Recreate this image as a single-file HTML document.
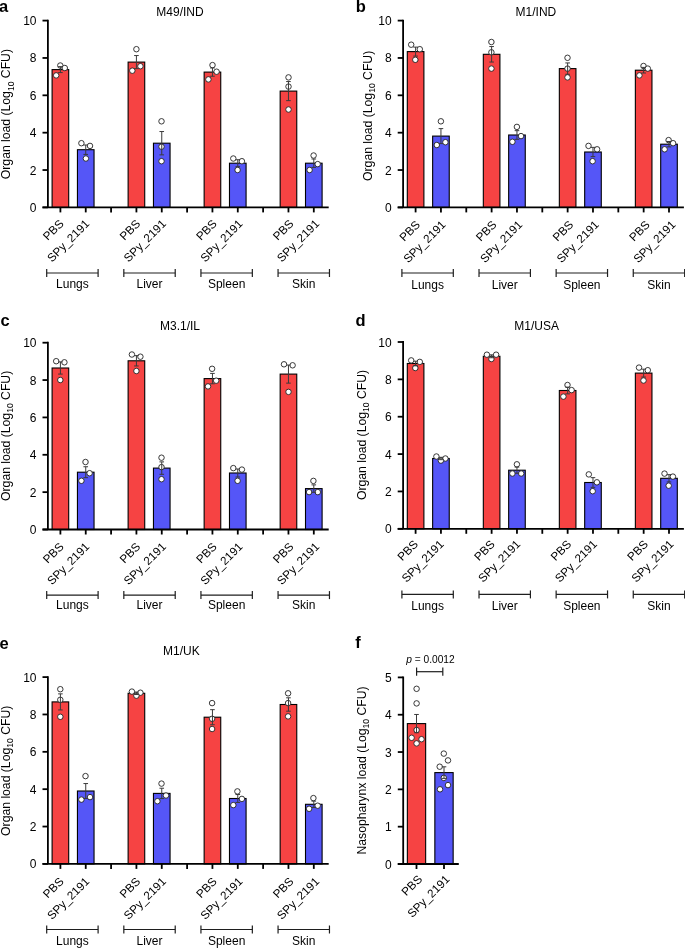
<!DOCTYPE html>
<html><head><meta charset="utf-8"><style>
html,body{margin:0;padding:0;background:#fff;}
svg{display:block;will-change:transform;}
text{font-family:"Liberation Sans",sans-serif;fill:#000;}
</style></head><body>
<svg width="685" height="948" viewBox="0 0 685 948">
<rect width="685" height="948" fill="#fff"/>
<rect x="52.10" y="69.60" width="16.6" height="137.80" fill="#f64343" stroke="#000" stroke-width="1.1"/>
<circle cx="60.30" cy="65.50" r="2.75" fill="#fff" stroke="#222" stroke-width="0.9"/>
<circle cx="64.80" cy="68.00" r="2.75" fill="#fff" stroke="#222" stroke-width="0.9"/>
<circle cx="56.20" cy="75.40" r="2.75" fill="#fff" stroke="#222" stroke-width="0.9"/>
<line x1="60.40" y1="66.63" x2="60.40" y2="72.57" stroke="#3a3a3a" stroke-width="1.0"/>
<line x1="58.10" y1="66.63" x2="62.70" y2="66.63" stroke="#3a3a3a" stroke-width="1.0"/>
<line x1="58.10" y1="72.57" x2="62.70" y2="72.57" stroke="#3a3a3a" stroke-width="1.0"/>
<rect x="77.44" y="149.70" width="16.6" height="57.70" fill="#5556f7" stroke="#000" stroke-width="1.1"/>
<circle cx="81.40" cy="143.20" r="2.75" fill="#fff" stroke="#222" stroke-width="0.9"/>
<circle cx="90.00" cy="145.90" r="2.75" fill="#fff" stroke="#222" stroke-width="0.9"/>
<circle cx="85.90" cy="158.50" r="2.75" fill="#fff" stroke="#222" stroke-width="0.9"/>
<line x1="85.74" y1="144.99" x2="85.74" y2="154.41" stroke="#3a3a3a" stroke-width="1.0"/>
<line x1="83.44" y1="144.99" x2="88.04" y2="144.99" stroke="#3a3a3a" stroke-width="1.0"/>
<line x1="83.44" y1="154.41" x2="88.04" y2="154.41" stroke="#3a3a3a" stroke-width="1.0"/>
<rect x="128.12" y="62.10" width="16.6" height="145.30" fill="#f64343" stroke="#000" stroke-width="1.1"/>
<circle cx="136.40" cy="49.20" r="2.75" fill="#fff" stroke="#222" stroke-width="0.9"/>
<circle cx="140.40" cy="66.20" r="2.75" fill="#fff" stroke="#222" stroke-width="0.9"/>
<circle cx="132.30" cy="70.70" r="2.75" fill="#fff" stroke="#222" stroke-width="0.9"/>
<line x1="136.42" y1="55.55" x2="136.42" y2="68.65" stroke="#3a3a3a" stroke-width="1.0"/>
<line x1="134.12" y1="55.55" x2="138.72" y2="55.55" stroke="#3a3a3a" stroke-width="1.0"/>
<line x1="134.12" y1="68.65" x2="138.72" y2="68.65" stroke="#3a3a3a" stroke-width="1.0"/>
<rect x="153.46" y="143.20" width="16.6" height="64.20" fill="#5556f7" stroke="#000" stroke-width="1.1"/>
<circle cx="161.50" cy="121.30" r="2.75" fill="#fff" stroke="#222" stroke-width="0.9"/>
<circle cx="161.50" cy="146.70" r="2.75" fill="#fff" stroke="#222" stroke-width="0.9"/>
<circle cx="161.50" cy="161.20" r="2.75" fill="#fff" stroke="#222" stroke-width="0.9"/>
<line x1="161.76" y1="131.54" x2="161.76" y2="154.86" stroke="#3a3a3a" stroke-width="1.0"/>
<line x1="159.46" y1="131.54" x2="164.06" y2="131.54" stroke="#3a3a3a" stroke-width="1.0"/>
<line x1="159.46" y1="154.86" x2="164.06" y2="154.86" stroke="#3a3a3a" stroke-width="1.0"/>
<rect x="204.14" y="72.10" width="16.6" height="135.30" fill="#f64343" stroke="#000" stroke-width="1.1"/>
<circle cx="212.50" cy="65.10" r="2.75" fill="#fff" stroke="#222" stroke-width="0.9"/>
<circle cx="216.60" cy="71.70" r="2.75" fill="#fff" stroke="#222" stroke-width="0.9"/>
<circle cx="208.40" cy="79.40" r="2.75" fill="#fff" stroke="#222" stroke-width="0.9"/>
<line x1="212.44" y1="67.97" x2="212.44" y2="76.23" stroke="#3a3a3a" stroke-width="1.0"/>
<line x1="210.14" y1="67.97" x2="214.74" y2="67.97" stroke="#3a3a3a" stroke-width="1.0"/>
<line x1="210.14" y1="76.23" x2="214.74" y2="76.23" stroke="#3a3a3a" stroke-width="1.0"/>
<rect x="229.48" y="163.20" width="16.6" height="44.20" fill="#5556f7" stroke="#000" stroke-width="1.1"/>
<circle cx="233.30" cy="158.50" r="2.75" fill="#fff" stroke="#222" stroke-width="0.9"/>
<circle cx="241.90" cy="161.20" r="2.75" fill="#fff" stroke="#222" stroke-width="0.9"/>
<circle cx="237.60" cy="170.00" r="2.75" fill="#fff" stroke="#222" stroke-width="0.9"/>
<line x1="237.78" y1="159.73" x2="237.78" y2="166.67" stroke="#3a3a3a" stroke-width="1.0"/>
<line x1="235.48" y1="159.73" x2="240.08" y2="159.73" stroke="#3a3a3a" stroke-width="1.0"/>
<line x1="235.48" y1="166.67" x2="240.08" y2="166.67" stroke="#3a3a3a" stroke-width="1.0"/>
<rect x="280.16" y="91.10" width="16.6" height="116.30" fill="#f64343" stroke="#000" stroke-width="1.1"/>
<circle cx="288.50" cy="77.40" r="2.75" fill="#fff" stroke="#222" stroke-width="0.9"/>
<circle cx="288.50" cy="86.60" r="2.75" fill="#fff" stroke="#222" stroke-width="0.9"/>
<circle cx="288.50" cy="109.50" r="2.75" fill="#fff" stroke="#222" stroke-width="0.9"/>
<line x1="288.46" y1="81.56" x2="288.46" y2="100.64" stroke="#3a3a3a" stroke-width="1.0"/>
<line x1="286.16" y1="81.56" x2="290.76" y2="81.56" stroke="#3a3a3a" stroke-width="1.0"/>
<line x1="286.16" y1="100.64" x2="290.76" y2="100.64" stroke="#3a3a3a" stroke-width="1.0"/>
<rect x="305.50" y="163.20" width="16.6" height="44.20" fill="#5556f7" stroke="#000" stroke-width="1.1"/>
<circle cx="313.60" cy="155.50" r="2.75" fill="#fff" stroke="#222" stroke-width="0.9"/>
<circle cx="317.70" cy="164.10" r="2.75" fill="#fff" stroke="#222" stroke-width="0.9"/>
<circle cx="309.60" cy="170.00" r="2.75" fill="#fff" stroke="#222" stroke-width="0.9"/>
<line x1="313.80" y1="158.99" x2="313.80" y2="167.41" stroke="#3a3a3a" stroke-width="1.0"/>
<line x1="311.50" y1="158.99" x2="316.10" y2="158.99" stroke="#3a3a3a" stroke-width="1.0"/>
<line x1="311.50" y1="167.41" x2="316.10" y2="167.41" stroke="#3a3a3a" stroke-width="1.0"/>
<line x1="47.90" y1="207.40" x2="47.90" y2="19.70" stroke="#000" stroke-width="1.8"/>
<line x1="42.50" y1="207.40" x2="47.90" y2="207.40" stroke="#000" stroke-width="1.8"/>
<text x="36.50" y="211.90" font-size="12" text-anchor="end" >0</text>
<line x1="42.50" y1="170.04" x2="47.90" y2="170.04" stroke="#000" stroke-width="1.8"/>
<text x="36.50" y="174.54" font-size="12" text-anchor="end" >2</text>
<line x1="42.50" y1="132.68" x2="47.90" y2="132.68" stroke="#000" stroke-width="1.8"/>
<text x="36.50" y="137.18" font-size="12" text-anchor="end" >4</text>
<line x1="42.50" y1="95.32" x2="47.90" y2="95.32" stroke="#000" stroke-width="1.8"/>
<text x="36.50" y="99.82" font-size="12" text-anchor="end" >6</text>
<line x1="42.50" y1="57.96" x2="47.90" y2="57.96" stroke="#000" stroke-width="1.8"/>
<text x="36.50" y="62.46" font-size="12" text-anchor="end" >8</text>
<line x1="42.50" y1="20.60" x2="47.90" y2="20.60" stroke="#000" stroke-width="1.8"/>
<text x="36.50" y="25.10" font-size="12" text-anchor="end" >10</text>
<line x1="42.50" y1="207.40" x2="328.70" y2="207.40" stroke="#000" stroke-width="1.8"/>
<line x1="60.40" y1="207.40" x2="60.40" y2="212.40" stroke="#000" stroke-width="1.8"/>
<line x1="85.74" y1="207.40" x2="85.74" y2="212.40" stroke="#000" stroke-width="1.8"/>
<line x1="111.08" y1="207.40" x2="111.08" y2="212.40" stroke="#000" stroke-width="1.8"/>
<line x1="136.42" y1="207.40" x2="136.42" y2="212.40" stroke="#000" stroke-width="1.8"/>
<line x1="161.76" y1="207.40" x2="161.76" y2="212.40" stroke="#000" stroke-width="1.8"/>
<line x1="187.10" y1="207.40" x2="187.10" y2="212.40" stroke="#000" stroke-width="1.8"/>
<line x1="212.44" y1="207.40" x2="212.44" y2="212.40" stroke="#000" stroke-width="1.8"/>
<line x1="237.78" y1="207.40" x2="237.78" y2="212.40" stroke="#000" stroke-width="1.8"/>
<line x1="263.12" y1="207.40" x2="263.12" y2="212.40" stroke="#000" stroke-width="1.8"/>
<line x1="288.46" y1="207.40" x2="288.46" y2="212.40" stroke="#000" stroke-width="1.8"/>
<line x1="313.80" y1="207.40" x2="313.80" y2="212.40" stroke="#000" stroke-width="1.8"/>
<text transform="translate(64.40,224.50) rotate(-45)" font-size="11.7" text-anchor="end">PBS</text>
<text transform="translate(90.14,224.50) rotate(-45)" font-size="11.7" text-anchor="end">SPy_2191</text>
<line x1="46.70" y1="273.00" x2="98.10" y2="273.00" stroke="#1e1e1e" stroke-width="1.2"/>
<line x1="46.70" y1="269.00" x2="46.70" y2="277.00" stroke="#1e1e1e" stroke-width="1.2"/>
<line x1="98.10" y1="269.00" x2="98.10" y2="277.00" stroke="#1e1e1e" stroke-width="1.2"/>
<text x="72.40" y="288.00" font-size="12" text-anchor="middle" >Lungs</text>
<text transform="translate(141.02,224.50) rotate(-45)" font-size="11.7" text-anchor="end">PBS</text>
<text transform="translate(166.76,224.50) rotate(-45)" font-size="11.7" text-anchor="end">SPy_2191</text>
<line x1="123.82" y1="273.00" x2="175.22" y2="273.00" stroke="#1e1e1e" stroke-width="1.2"/>
<line x1="123.82" y1="269.00" x2="123.82" y2="277.00" stroke="#1e1e1e" stroke-width="1.2"/>
<line x1="175.22" y1="269.00" x2="175.22" y2="277.00" stroke="#1e1e1e" stroke-width="1.2"/>
<text x="149.52" y="288.00" font-size="12" text-anchor="middle" >Liver</text>
<text transform="translate(217.64,224.50) rotate(-45)" font-size="11.7" text-anchor="end">PBS</text>
<text transform="translate(243.38,224.50) rotate(-45)" font-size="11.7" text-anchor="end">SPy_2191</text>
<line x1="200.94" y1="273.00" x2="252.34" y2="273.00" stroke="#1e1e1e" stroke-width="1.2"/>
<line x1="200.94" y1="269.00" x2="200.94" y2="277.00" stroke="#1e1e1e" stroke-width="1.2"/>
<line x1="252.34" y1="269.00" x2="252.34" y2="277.00" stroke="#1e1e1e" stroke-width="1.2"/>
<text x="226.64" y="288.00" font-size="12" text-anchor="middle" >Spleen</text>
<text transform="translate(294.26,224.50) rotate(-45)" font-size="11.7" text-anchor="end">PBS</text>
<text transform="translate(320.00,224.50) rotate(-45)" font-size="11.7" text-anchor="end">SPy_2191</text>
<line x1="278.06" y1="273.00" x2="329.46" y2="273.00" stroke="#1e1e1e" stroke-width="1.2"/>
<line x1="278.06" y1="269.00" x2="278.06" y2="277.00" stroke="#1e1e1e" stroke-width="1.2"/>
<line x1="329.46" y1="269.00" x2="329.46" y2="277.00" stroke="#1e1e1e" stroke-width="1.2"/>
<text x="303.76" y="288.00" font-size="12" text-anchor="middle" >Skin</text>
<text x="180.00" y="15.80" font-size="12" text-anchor="middle" >M49/IND</text>
<text transform="translate(10.30,114.10) rotate(-90)" font-size="12.2" text-anchor="middle">Organ load (Log<tspan font-size="8.6" dy="3.2">10</tspan><tspan dy="-3.2"> CFU)</tspan></text>
<text x="-0.90" y="11.90" font-size="16.5" text-anchor="start" font-weight="bold">a</text>
<rect x="407.30" y="51.60" width="16.6" height="155.80" fill="#f64343" stroke="#000" stroke-width="1.1"/>
<circle cx="411.20" cy="44.70" r="2.75" fill="#fff" stroke="#222" stroke-width="0.9"/>
<circle cx="419.80" cy="49.20" r="2.75" fill="#fff" stroke="#222" stroke-width="0.9"/>
<circle cx="415.30" cy="59.80" r="2.75" fill="#fff" stroke="#222" stroke-width="0.9"/>
<line x1="415.60" y1="47.12" x2="415.60" y2="56.08" stroke="#3a3a3a" stroke-width="1.0"/>
<line x1="413.30" y1="47.12" x2="417.90" y2="47.12" stroke="#3a3a3a" stroke-width="1.0"/>
<line x1="413.30" y1="56.08" x2="417.90" y2="56.08" stroke="#3a3a3a" stroke-width="1.0"/>
<rect x="432.64" y="136.10" width="16.6" height="71.30" fill="#5556f7" stroke="#000" stroke-width="1.1"/>
<circle cx="440.90" cy="121.30" r="2.75" fill="#fff" stroke="#222" stroke-width="0.9"/>
<circle cx="445.40" cy="142.20" r="2.75" fill="#fff" stroke="#222" stroke-width="0.9"/>
<circle cx="436.80" cy="145.00" r="2.75" fill="#fff" stroke="#222" stroke-width="0.9"/>
<line x1="440.94" y1="128.62" x2="440.94" y2="143.58" stroke="#3a3a3a" stroke-width="1.0"/>
<line x1="438.64" y1="128.62" x2="443.24" y2="128.62" stroke="#3a3a3a" stroke-width="1.0"/>
<line x1="438.64" y1="143.58" x2="443.24" y2="143.58" stroke="#3a3a3a" stroke-width="1.0"/>
<rect x="483.32" y="54.30" width="16.6" height="153.10" fill="#f64343" stroke="#000" stroke-width="1.1"/>
<circle cx="491.40" cy="42.00" r="2.75" fill="#fff" stroke="#222" stroke-width="0.9"/>
<circle cx="491.40" cy="52.30" r="2.75" fill="#fff" stroke="#222" stroke-width="0.9"/>
<circle cx="491.40" cy="68.60" r="2.75" fill="#fff" stroke="#222" stroke-width="0.9"/>
<line x1="491.62" y1="46.56" x2="491.62" y2="62.04" stroke="#3a3a3a" stroke-width="1.0"/>
<line x1="489.32" y1="46.56" x2="493.92" y2="46.56" stroke="#3a3a3a" stroke-width="1.0"/>
<line x1="489.32" y1="62.04" x2="493.92" y2="62.04" stroke="#3a3a3a" stroke-width="1.0"/>
<rect x="508.66" y="135.00" width="16.6" height="72.40" fill="#5556f7" stroke="#000" stroke-width="1.1"/>
<circle cx="516.90" cy="126.90" r="2.75" fill="#fff" stroke="#222" stroke-width="0.9"/>
<circle cx="521.00" cy="136.10" r="2.75" fill="#fff" stroke="#222" stroke-width="0.9"/>
<circle cx="512.40" cy="141.80" r="2.75" fill="#fff" stroke="#222" stroke-width="0.9"/>
<line x1="516.96" y1="130.66" x2="516.96" y2="139.34" stroke="#3a3a3a" stroke-width="1.0"/>
<line x1="514.66" y1="130.66" x2="519.26" y2="130.66" stroke="#3a3a3a" stroke-width="1.0"/>
<line x1="514.66" y1="139.34" x2="519.26" y2="139.34" stroke="#3a3a3a" stroke-width="1.0"/>
<rect x="559.34" y="68.60" width="16.6" height="138.80" fill="#f64343" stroke="#000" stroke-width="1.1"/>
<circle cx="567.50" cy="57.80" r="2.75" fill="#fff" stroke="#222" stroke-width="0.9"/>
<circle cx="567.50" cy="68.60" r="2.75" fill="#fff" stroke="#222" stroke-width="0.9"/>
<circle cx="567.50" cy="77.40" r="2.75" fill="#fff" stroke="#222" stroke-width="0.9"/>
<line x1="567.64" y1="62.93" x2="567.64" y2="74.27" stroke="#3a3a3a" stroke-width="1.0"/>
<line x1="565.34" y1="62.93" x2="569.94" y2="62.93" stroke="#3a3a3a" stroke-width="1.0"/>
<line x1="565.34" y1="74.27" x2="569.94" y2="74.27" stroke="#3a3a3a" stroke-width="1.0"/>
<rect x="584.68" y="152.00" width="16.6" height="55.40" fill="#5556f7" stroke="#000" stroke-width="1.1"/>
<circle cx="588.50" cy="145.90" r="2.75" fill="#fff" stroke="#222" stroke-width="0.9"/>
<circle cx="597.10" cy="149.30" r="2.75" fill="#fff" stroke="#222" stroke-width="0.9"/>
<circle cx="592.60" cy="161.20" r="2.75" fill="#fff" stroke="#222" stroke-width="0.9"/>
<line x1="592.98" y1="147.36" x2="592.98" y2="156.64" stroke="#3a3a3a" stroke-width="1.0"/>
<line x1="590.68" y1="147.36" x2="595.28" y2="147.36" stroke="#3a3a3a" stroke-width="1.0"/>
<line x1="590.68" y1="156.64" x2="595.28" y2="156.64" stroke="#3a3a3a" stroke-width="1.0"/>
<rect x="635.36" y="70.20" width="16.6" height="137.20" fill="#f64343" stroke="#000" stroke-width="1.1"/>
<circle cx="643.50" cy="66.00" r="2.75" fill="#fff" stroke="#222" stroke-width="0.9"/>
<circle cx="647.80" cy="68.60" r="2.75" fill="#fff" stroke="#222" stroke-width="0.9"/>
<circle cx="639.40" cy="75.40" r="2.75" fill="#fff" stroke="#222" stroke-width="0.9"/>
<line x1="643.66" y1="67.40" x2="643.66" y2="73.00" stroke="#3a3a3a" stroke-width="1.0"/>
<line x1="641.36" y1="67.40" x2="645.96" y2="67.40" stroke="#3a3a3a" stroke-width="1.0"/>
<line x1="641.36" y1="73.00" x2="645.96" y2="73.00" stroke="#3a3a3a" stroke-width="1.0"/>
<rect x="660.70" y="144.20" width="16.6" height="63.20" fill="#5556f7" stroke="#000" stroke-width="1.1"/>
<circle cx="668.60" cy="140.10" r="2.75" fill="#fff" stroke="#222" stroke-width="0.9"/>
<circle cx="673.10" cy="143.20" r="2.75" fill="#fff" stroke="#222" stroke-width="0.9"/>
<circle cx="664.60" cy="149.30" r="2.75" fill="#fff" stroke="#222" stroke-width="0.9"/>
<line x1="669.00" y1="141.50" x2="669.00" y2="146.90" stroke="#3a3a3a" stroke-width="1.0"/>
<line x1="666.70" y1="141.50" x2="671.30" y2="141.50" stroke="#3a3a3a" stroke-width="1.0"/>
<line x1="666.70" y1="146.90" x2="671.30" y2="146.90" stroke="#3a3a3a" stroke-width="1.0"/>
<line x1="403.10" y1="207.40" x2="403.10" y2="19.70" stroke="#000" stroke-width="1.8"/>
<line x1="397.70" y1="207.40" x2="403.10" y2="207.40" stroke="#000" stroke-width="1.8"/>
<text x="391.70" y="211.90" font-size="12" text-anchor="end" >0</text>
<line x1="397.70" y1="170.04" x2="403.10" y2="170.04" stroke="#000" stroke-width="1.8"/>
<text x="391.70" y="174.54" font-size="12" text-anchor="end" >2</text>
<line x1="397.70" y1="132.68" x2="403.10" y2="132.68" stroke="#000" stroke-width="1.8"/>
<text x="391.70" y="137.18" font-size="12" text-anchor="end" >4</text>
<line x1="397.70" y1="95.32" x2="403.10" y2="95.32" stroke="#000" stroke-width="1.8"/>
<text x="391.70" y="99.82" font-size="12" text-anchor="end" >6</text>
<line x1="397.70" y1="57.96" x2="403.10" y2="57.96" stroke="#000" stroke-width="1.8"/>
<text x="391.70" y="62.46" font-size="12" text-anchor="end" >8</text>
<line x1="397.70" y1="20.60" x2="403.10" y2="20.60" stroke="#000" stroke-width="1.8"/>
<text x="391.70" y="25.10" font-size="12" text-anchor="end" >10</text>
<line x1="397.70" y1="207.40" x2="683.90" y2="207.40" stroke="#000" stroke-width="1.8"/>
<line x1="415.60" y1="207.40" x2="415.60" y2="212.40" stroke="#000" stroke-width="1.8"/>
<line x1="440.94" y1="207.40" x2="440.94" y2="212.40" stroke="#000" stroke-width="1.8"/>
<line x1="466.28" y1="207.40" x2="466.28" y2="212.40" stroke="#000" stroke-width="1.8"/>
<line x1="491.62" y1="207.40" x2="491.62" y2="212.40" stroke="#000" stroke-width="1.8"/>
<line x1="516.96" y1="207.40" x2="516.96" y2="212.40" stroke="#000" stroke-width="1.8"/>
<line x1="542.30" y1="207.40" x2="542.30" y2="212.40" stroke="#000" stroke-width="1.8"/>
<line x1="567.64" y1="207.40" x2="567.64" y2="212.40" stroke="#000" stroke-width="1.8"/>
<line x1="592.98" y1="207.40" x2="592.98" y2="212.40" stroke="#000" stroke-width="1.8"/>
<line x1="618.32" y1="207.40" x2="618.32" y2="212.40" stroke="#000" stroke-width="1.8"/>
<line x1="643.66" y1="207.40" x2="643.66" y2="212.40" stroke="#000" stroke-width="1.8"/>
<line x1="669.00" y1="207.40" x2="669.00" y2="212.40" stroke="#000" stroke-width="1.8"/>
<text transform="translate(420.70,225.40) rotate(-45)" font-size="11.7" text-anchor="end">PBS</text>
<text transform="translate(446.44,225.40) rotate(-45)" font-size="11.7" text-anchor="end">SPy_2191</text>
<line x1="401.90" y1="273.00" x2="453.30" y2="273.00" stroke="#1e1e1e" stroke-width="1.2"/>
<line x1="401.90" y1="269.00" x2="401.90" y2="277.00" stroke="#1e1e1e" stroke-width="1.2"/>
<line x1="453.30" y1="269.00" x2="453.30" y2="277.00" stroke="#1e1e1e" stroke-width="1.2"/>
<text x="427.60" y="288.60" font-size="12" text-anchor="middle" >Lungs</text>
<text transform="translate(497.32,225.40) rotate(-45)" font-size="11.7" text-anchor="end">PBS</text>
<text transform="translate(523.06,225.40) rotate(-45)" font-size="11.7" text-anchor="end">SPy_2191</text>
<line x1="479.02" y1="273.00" x2="530.42" y2="273.00" stroke="#1e1e1e" stroke-width="1.2"/>
<line x1="479.02" y1="269.00" x2="479.02" y2="277.00" stroke="#1e1e1e" stroke-width="1.2"/>
<line x1="530.42" y1="269.00" x2="530.42" y2="277.00" stroke="#1e1e1e" stroke-width="1.2"/>
<text x="504.72" y="288.60" font-size="12" text-anchor="middle" >Liver</text>
<text transform="translate(573.94,225.40) rotate(-45)" font-size="11.7" text-anchor="end">PBS</text>
<text transform="translate(599.68,225.40) rotate(-45)" font-size="11.7" text-anchor="end">SPy_2191</text>
<line x1="556.14" y1="273.00" x2="607.54" y2="273.00" stroke="#1e1e1e" stroke-width="1.2"/>
<line x1="556.14" y1="269.00" x2="556.14" y2="277.00" stroke="#1e1e1e" stroke-width="1.2"/>
<line x1="607.54" y1="269.00" x2="607.54" y2="277.00" stroke="#1e1e1e" stroke-width="1.2"/>
<text x="581.84" y="288.60" font-size="12" text-anchor="middle" >Spleen</text>
<text transform="translate(650.56,225.40) rotate(-45)" font-size="11.7" text-anchor="end">PBS</text>
<text transform="translate(676.30,225.40) rotate(-45)" font-size="11.7" text-anchor="end">SPy_2191</text>
<line x1="633.26" y1="273.00" x2="684.66" y2="273.00" stroke="#1e1e1e" stroke-width="1.2"/>
<line x1="633.26" y1="269.00" x2="633.26" y2="277.00" stroke="#1e1e1e" stroke-width="1.2"/>
<line x1="684.66" y1="269.00" x2="684.66" y2="277.00" stroke="#1e1e1e" stroke-width="1.2"/>
<text x="658.96" y="288.60" font-size="12" text-anchor="middle" >Skin</text>
<text x="535.95" y="15.80" font-size="12" text-anchor="middle" >M1/IND</text>
<text transform="translate(371.90,115.85) rotate(-90)" font-size="12.2" text-anchor="middle">Organ load (Log<tspan font-size="8.6" dy="3.2">10</tspan><tspan dy="-3.2"> CFU)</tspan></text>
<text x="355.80" y="11.70" font-size="16.5" text-anchor="start" font-weight="bold">b</text>
<rect x="52.10" y="368.00" width="16.6" height="161.50" fill="#f64343" stroke="#000" stroke-width="1.1"/>
<circle cx="56.20" cy="361.20" r="2.75" fill="#fff" stroke="#222" stroke-width="0.9"/>
<circle cx="64.40" cy="362.30" r="2.75" fill="#fff" stroke="#222" stroke-width="0.9"/>
<circle cx="60.30" cy="380.00" r="2.75" fill="#fff" stroke="#222" stroke-width="0.9"/>
<line x1="60.40" y1="361.91" x2="60.40" y2="374.09" stroke="#3a3a3a" stroke-width="1.0"/>
<line x1="58.10" y1="361.91" x2="62.70" y2="361.91" stroke="#3a3a3a" stroke-width="1.0"/>
<line x1="58.10" y1="374.09" x2="62.70" y2="374.09" stroke="#3a3a3a" stroke-width="1.0"/>
<rect x="77.44" y="472.20" width="16.6" height="57.30" fill="#5556f7" stroke="#000" stroke-width="1.1"/>
<circle cx="85.50" cy="462.00" r="2.75" fill="#fff" stroke="#222" stroke-width="0.9"/>
<circle cx="89.60" cy="473.20" r="2.75" fill="#fff" stroke="#222" stroke-width="0.9"/>
<circle cx="81.40" cy="480.80" r="2.75" fill="#fff" stroke="#222" stroke-width="0.9"/>
<line x1="85.74" y1="466.74" x2="85.74" y2="477.66" stroke="#3a3a3a" stroke-width="1.0"/>
<line x1="83.44" y1="466.74" x2="88.04" y2="466.74" stroke="#3a3a3a" stroke-width="1.0"/>
<line x1="83.44" y1="477.66" x2="88.04" y2="477.66" stroke="#3a3a3a" stroke-width="1.0"/>
<rect x="128.12" y="360.80" width="16.6" height="168.70" fill="#f64343" stroke="#000" stroke-width="1.1"/>
<circle cx="131.90" cy="354.50" r="2.75" fill="#fff" stroke="#222" stroke-width="0.9"/>
<circle cx="140.40" cy="356.70" r="2.75" fill="#fff" stroke="#222" stroke-width="0.9"/>
<circle cx="136.40" cy="371.00" r="2.75" fill="#fff" stroke="#222" stroke-width="0.9"/>
<line x1="136.42" y1="355.63" x2="136.42" y2="365.97" stroke="#3a3a3a" stroke-width="1.0"/>
<line x1="134.12" y1="355.63" x2="138.72" y2="355.63" stroke="#3a3a3a" stroke-width="1.0"/>
<line x1="134.12" y1="365.97" x2="138.72" y2="365.97" stroke="#3a3a3a" stroke-width="1.0"/>
<rect x="153.46" y="468.10" width="16.6" height="61.40" fill="#5556f7" stroke="#000" stroke-width="1.1"/>
<circle cx="161.50" cy="457.70" r="2.75" fill="#fff" stroke="#222" stroke-width="0.9"/>
<circle cx="161.50" cy="467.10" r="2.75" fill="#fff" stroke="#222" stroke-width="0.9"/>
<circle cx="161.50" cy="479.20" r="2.75" fill="#fff" stroke="#222" stroke-width="0.9"/>
<line x1="161.76" y1="461.88" x2="161.76" y2="474.32" stroke="#3a3a3a" stroke-width="1.0"/>
<line x1="159.46" y1="461.88" x2="164.06" y2="461.88" stroke="#3a3a3a" stroke-width="1.0"/>
<line x1="159.46" y1="474.32" x2="164.06" y2="474.32" stroke="#3a3a3a" stroke-width="1.0"/>
<rect x="204.14" y="378.60" width="16.6" height="150.90" fill="#f64343" stroke="#000" stroke-width="1.1"/>
<circle cx="212.10" cy="368.80" r="2.75" fill="#fff" stroke="#222" stroke-width="0.9"/>
<circle cx="216.20" cy="380.70" r="2.75" fill="#fff" stroke="#222" stroke-width="0.9"/>
<circle cx="208.00" cy="386.40" r="2.75" fill="#fff" stroke="#222" stroke-width="0.9"/>
<line x1="212.44" y1="373.42" x2="212.44" y2="383.78" stroke="#3a3a3a" stroke-width="1.0"/>
<line x1="210.14" y1="373.42" x2="214.74" y2="373.42" stroke="#3a3a3a" stroke-width="1.0"/>
<line x1="210.14" y1="383.78" x2="214.74" y2="383.78" stroke="#3a3a3a" stroke-width="1.0"/>
<rect x="229.48" y="473.00" width="16.6" height="56.50" fill="#5556f7" stroke="#000" stroke-width="1.1"/>
<circle cx="233.30" cy="468.10" r="2.75" fill="#fff" stroke="#222" stroke-width="0.9"/>
<circle cx="241.90" cy="469.60" r="2.75" fill="#fff" stroke="#222" stroke-width="0.9"/>
<circle cx="237.60" cy="480.80" r="2.75" fill="#fff" stroke="#222" stroke-width="0.9"/>
<line x1="237.78" y1="468.99" x2="237.78" y2="477.01" stroke="#3a3a3a" stroke-width="1.0"/>
<line x1="235.48" y1="468.99" x2="240.08" y2="468.99" stroke="#3a3a3a" stroke-width="1.0"/>
<line x1="235.48" y1="477.01" x2="240.08" y2="477.01" stroke="#3a3a3a" stroke-width="1.0"/>
<rect x="280.16" y="374.10" width="16.6" height="155.40" fill="#f64343" stroke="#000" stroke-width="1.1"/>
<circle cx="284.00" cy="364.30" r="2.75" fill="#fff" stroke="#222" stroke-width="0.9"/>
<circle cx="292.60" cy="365.30" r="2.75" fill="#fff" stroke="#222" stroke-width="0.9"/>
<circle cx="288.50" cy="391.90" r="2.75" fill="#fff" stroke="#222" stroke-width="0.9"/>
<line x1="288.46" y1="365.06" x2="288.46" y2="383.14" stroke="#3a3a3a" stroke-width="1.0"/>
<line x1="286.16" y1="365.06" x2="290.76" y2="365.06" stroke="#3a3a3a" stroke-width="1.0"/>
<line x1="286.16" y1="383.14" x2="290.76" y2="383.14" stroke="#3a3a3a" stroke-width="1.0"/>
<rect x="305.50" y="488.60" width="16.6" height="40.90" fill="#5556f7" stroke="#000" stroke-width="1.1"/>
<circle cx="313.40" cy="480.90" r="2.75" fill="#fff" stroke="#222" stroke-width="0.9"/>
<circle cx="309.10" cy="492.10" r="2.75" fill="#fff" stroke="#222" stroke-width="0.9"/>
<circle cx="317.80" cy="492.10" r="2.75" fill="#fff" stroke="#222" stroke-width="0.9"/>
<line x1="313.80" y1="484.87" x2="313.80" y2="492.33" stroke="#3a3a3a" stroke-width="1.0"/>
<line x1="311.50" y1="484.87" x2="316.10" y2="484.87" stroke="#3a3a3a" stroke-width="1.0"/>
<line x1="311.50" y1="492.33" x2="316.10" y2="492.33" stroke="#3a3a3a" stroke-width="1.0"/>
<line x1="47.90" y1="529.50" x2="47.90" y2="341.80" stroke="#000" stroke-width="1.8"/>
<line x1="42.50" y1="529.50" x2="47.90" y2="529.50" stroke="#000" stroke-width="1.8"/>
<text x="36.50" y="534.00" font-size="12" text-anchor="end" >0</text>
<line x1="42.50" y1="492.14" x2="47.90" y2="492.14" stroke="#000" stroke-width="1.8"/>
<text x="36.50" y="496.64" font-size="12" text-anchor="end" >2</text>
<line x1="42.50" y1="454.78" x2="47.90" y2="454.78" stroke="#000" stroke-width="1.8"/>
<text x="36.50" y="459.28" font-size="12" text-anchor="end" >4</text>
<line x1="42.50" y1="417.42" x2="47.90" y2="417.42" stroke="#000" stroke-width="1.8"/>
<text x="36.50" y="421.92" font-size="12" text-anchor="end" >6</text>
<line x1="42.50" y1="380.06" x2="47.90" y2="380.06" stroke="#000" stroke-width="1.8"/>
<text x="36.50" y="384.56" font-size="12" text-anchor="end" >8</text>
<line x1="42.50" y1="342.70" x2="47.90" y2="342.70" stroke="#000" stroke-width="1.8"/>
<text x="36.50" y="347.20" font-size="12" text-anchor="end" >10</text>
<line x1="42.50" y1="529.50" x2="328.70" y2="529.50" stroke="#000" stroke-width="1.8"/>
<line x1="60.40" y1="529.50" x2="60.40" y2="534.50" stroke="#000" stroke-width="1.8"/>
<line x1="85.74" y1="529.50" x2="85.74" y2="534.50" stroke="#000" stroke-width="1.8"/>
<line x1="111.08" y1="529.50" x2="111.08" y2="534.50" stroke="#000" stroke-width="1.8"/>
<line x1="136.42" y1="529.50" x2="136.42" y2="534.50" stroke="#000" stroke-width="1.8"/>
<line x1="161.76" y1="529.50" x2="161.76" y2="534.50" stroke="#000" stroke-width="1.8"/>
<line x1="187.10" y1="529.50" x2="187.10" y2="534.50" stroke="#000" stroke-width="1.8"/>
<line x1="212.44" y1="529.50" x2="212.44" y2="534.50" stroke="#000" stroke-width="1.8"/>
<line x1="237.78" y1="529.50" x2="237.78" y2="534.50" stroke="#000" stroke-width="1.8"/>
<line x1="263.12" y1="529.50" x2="263.12" y2="534.50" stroke="#000" stroke-width="1.8"/>
<line x1="288.46" y1="529.50" x2="288.46" y2="534.50" stroke="#000" stroke-width="1.8"/>
<line x1="313.80" y1="529.50" x2="313.80" y2="534.50" stroke="#000" stroke-width="1.8"/>
<text transform="translate(64.40,547.40) rotate(-45)" font-size="11.7" text-anchor="end">PBS</text>
<text transform="translate(90.14,547.40) rotate(-45)" font-size="11.7" text-anchor="end">SPy_2191</text>
<line x1="46.70" y1="595.10" x2="98.10" y2="595.10" stroke="#1e1e1e" stroke-width="1.2"/>
<line x1="46.70" y1="591.10" x2="46.70" y2="599.10" stroke="#1e1e1e" stroke-width="1.2"/>
<line x1="98.10" y1="591.10" x2="98.10" y2="599.10" stroke="#1e1e1e" stroke-width="1.2"/>
<text x="72.40" y="609.20" font-size="12" text-anchor="middle" >Lungs</text>
<text transform="translate(141.02,547.40) rotate(-45)" font-size="11.7" text-anchor="end">PBS</text>
<text transform="translate(166.76,547.40) rotate(-45)" font-size="11.7" text-anchor="end">SPy_2191</text>
<line x1="123.82" y1="595.10" x2="175.22" y2="595.10" stroke="#1e1e1e" stroke-width="1.2"/>
<line x1="123.82" y1="591.10" x2="123.82" y2="599.10" stroke="#1e1e1e" stroke-width="1.2"/>
<line x1="175.22" y1="591.10" x2="175.22" y2="599.10" stroke="#1e1e1e" stroke-width="1.2"/>
<text x="149.52" y="609.20" font-size="12" text-anchor="middle" >Liver</text>
<text transform="translate(217.64,547.40) rotate(-45)" font-size="11.7" text-anchor="end">PBS</text>
<text transform="translate(243.38,547.40) rotate(-45)" font-size="11.7" text-anchor="end">SPy_2191</text>
<line x1="200.94" y1="595.10" x2="252.34" y2="595.10" stroke="#1e1e1e" stroke-width="1.2"/>
<line x1="200.94" y1="591.10" x2="200.94" y2="599.10" stroke="#1e1e1e" stroke-width="1.2"/>
<line x1="252.34" y1="591.10" x2="252.34" y2="599.10" stroke="#1e1e1e" stroke-width="1.2"/>
<text x="226.64" y="609.20" font-size="12" text-anchor="middle" >Spleen</text>
<text transform="translate(294.26,547.40) rotate(-45)" font-size="11.7" text-anchor="end">PBS</text>
<text transform="translate(320.00,547.40) rotate(-45)" font-size="11.7" text-anchor="end">SPy_2191</text>
<line x1="278.06" y1="595.10" x2="329.46" y2="595.10" stroke="#1e1e1e" stroke-width="1.2"/>
<line x1="278.06" y1="591.10" x2="278.06" y2="599.10" stroke="#1e1e1e" stroke-width="1.2"/>
<line x1="329.46" y1="591.10" x2="329.46" y2="599.10" stroke="#1e1e1e" stroke-width="1.2"/>
<text x="303.76" y="609.20" font-size="12" text-anchor="middle" >Skin</text>
<text x="180.00" y="330.00" font-size="12" text-anchor="middle" >M3.1/IL</text>
<text transform="translate(10.20,435.85) rotate(-90)" font-size="12.2" text-anchor="middle">Organ load (Log<tspan font-size="8.6" dy="3.2">10</tspan><tspan dy="-3.2"> CFU)</tspan></text>
<text x="0.50" y="326.00" font-size="16.5" text-anchor="start" font-weight="bold">c</text>
<rect x="407.30" y="363.50" width="16.6" height="165.30" fill="#f64343" stroke="#000" stroke-width="1.1"/>
<circle cx="411.20" cy="360.40" r="2.75" fill="#fff" stroke="#222" stroke-width="0.9"/>
<circle cx="419.80" cy="361.90" r="2.75" fill="#fff" stroke="#222" stroke-width="0.9"/>
<circle cx="415.30" cy="368.00" r="2.75" fill="#fff" stroke="#222" stroke-width="0.9"/>
<line x1="415.60" y1="361.18" x2="415.60" y2="365.82" stroke="#3a3a3a" stroke-width="1.0"/>
<line x1="413.30" y1="361.18" x2="417.90" y2="361.18" stroke="#3a3a3a" stroke-width="1.0"/>
<line x1="413.30" y1="365.82" x2="417.90" y2="365.82" stroke="#3a3a3a" stroke-width="1.0"/>
<rect x="432.64" y="458.50" width="16.6" height="70.30" fill="#5556f7" stroke="#000" stroke-width="1.1"/>
<circle cx="436.40" cy="456.50" r="2.75" fill="#fff" stroke="#222" stroke-width="0.9"/>
<circle cx="445.40" cy="458.50" r="2.75" fill="#fff" stroke="#222" stroke-width="0.9"/>
<circle cx="440.90" cy="460.60" r="2.75" fill="#fff" stroke="#222" stroke-width="0.9"/>
<line x1="440.94" y1="457.32" x2="440.94" y2="459.68" stroke="#3a3a3a" stroke-width="1.0"/>
<line x1="438.64" y1="457.32" x2="443.24" y2="457.32" stroke="#3a3a3a" stroke-width="1.0"/>
<line x1="438.64" y1="459.68" x2="443.24" y2="459.68" stroke="#3a3a3a" stroke-width="1.0"/>
<rect x="483.32" y="356.30" width="16.6" height="172.50" fill="#f64343" stroke="#000" stroke-width="1.1"/>
<circle cx="486.90" cy="354.70" r="2.75" fill="#fff" stroke="#222" stroke-width="0.9"/>
<circle cx="496.10" cy="354.70" r="2.75" fill="#fff" stroke="#222" stroke-width="0.9"/>
<circle cx="491.40" cy="359.00" r="2.75" fill="#fff" stroke="#222" stroke-width="0.9"/>
<line x1="491.62" y1="354.87" x2="491.62" y2="357.73" stroke="#3a3a3a" stroke-width="1.0"/>
<line x1="489.32" y1="354.87" x2="493.92" y2="354.87" stroke="#3a3a3a" stroke-width="1.0"/>
<line x1="489.32" y1="357.73" x2="493.92" y2="357.73" stroke="#3a3a3a" stroke-width="1.0"/>
<rect x="508.66" y="470.20" width="16.6" height="58.60" fill="#5556f7" stroke="#000" stroke-width="1.1"/>
<circle cx="516.90" cy="464.30" r="2.75" fill="#fff" stroke="#222" stroke-width="0.9"/>
<circle cx="512.40" cy="473.50" r="2.75" fill="#fff" stroke="#222" stroke-width="0.9"/>
<circle cx="521.20" cy="473.50" r="2.75" fill="#fff" stroke="#222" stroke-width="0.9"/>
<line x1="516.96" y1="467.13" x2="516.96" y2="473.27" stroke="#3a3a3a" stroke-width="1.0"/>
<line x1="514.66" y1="467.13" x2="519.26" y2="467.13" stroke="#3a3a3a" stroke-width="1.0"/>
<line x1="514.66" y1="473.27" x2="519.26" y2="473.27" stroke="#3a3a3a" stroke-width="1.0"/>
<rect x="559.34" y="390.50" width="16.6" height="138.30" fill="#f64343" stroke="#000" stroke-width="1.1"/>
<circle cx="567.50" cy="385.00" r="2.75" fill="#fff" stroke="#222" stroke-width="0.9"/>
<circle cx="571.60" cy="390.10" r="2.75" fill="#fff" stroke="#222" stroke-width="0.9"/>
<circle cx="563.40" cy="396.60" r="2.75" fill="#fff" stroke="#222" stroke-width="0.9"/>
<line x1="567.64" y1="387.14" x2="567.64" y2="393.86" stroke="#3a3a3a" stroke-width="1.0"/>
<line x1="565.34" y1="387.14" x2="569.94" y2="387.14" stroke="#3a3a3a" stroke-width="1.0"/>
<line x1="565.34" y1="393.86" x2="569.94" y2="393.86" stroke="#3a3a3a" stroke-width="1.0"/>
<rect x="584.68" y="482.50" width="16.6" height="46.30" fill="#5556f7" stroke="#000" stroke-width="1.1"/>
<circle cx="588.80" cy="474.40" r="2.75" fill="#fff" stroke="#222" stroke-width="0.9"/>
<circle cx="596.90" cy="482.30" r="2.75" fill="#fff" stroke="#222" stroke-width="0.9"/>
<circle cx="592.70" cy="491.20" r="2.75" fill="#fff" stroke="#222" stroke-width="0.9"/>
<line x1="592.98" y1="477.65" x2="592.98" y2="487.35" stroke="#3a3a3a" stroke-width="1.0"/>
<line x1="590.68" y1="477.65" x2="595.28" y2="477.65" stroke="#3a3a3a" stroke-width="1.0"/>
<line x1="590.68" y1="487.35" x2="595.28" y2="487.35" stroke="#3a3a3a" stroke-width="1.0"/>
<rect x="635.36" y="373.10" width="16.6" height="155.70" fill="#f64343" stroke="#000" stroke-width="1.1"/>
<circle cx="639.00" cy="367.60" r="2.75" fill="#fff" stroke="#222" stroke-width="0.9"/>
<circle cx="647.80" cy="370.20" r="2.75" fill="#fff" stroke="#222" stroke-width="0.9"/>
<circle cx="643.50" cy="380.50" r="2.75" fill="#fff" stroke="#222" stroke-width="0.9"/>
<line x1="643.66" y1="369.16" x2="643.66" y2="377.04" stroke="#3a3a3a" stroke-width="1.0"/>
<line x1="641.36" y1="369.16" x2="645.96" y2="369.16" stroke="#3a3a3a" stroke-width="1.0"/>
<line x1="641.36" y1="377.04" x2="645.96" y2="377.04" stroke="#3a3a3a" stroke-width="1.0"/>
<rect x="660.70" y="478.30" width="16.6" height="50.50" fill="#5556f7" stroke="#000" stroke-width="1.1"/>
<circle cx="664.50" cy="473.60" r="2.75" fill="#fff" stroke="#222" stroke-width="0.9"/>
<circle cx="672.90" cy="476.60" r="2.75" fill="#fff" stroke="#222" stroke-width="0.9"/>
<circle cx="668.70" cy="485.70" r="2.75" fill="#fff" stroke="#222" stroke-width="0.9"/>
<line x1="669.00" y1="474.66" x2="669.00" y2="481.94" stroke="#3a3a3a" stroke-width="1.0"/>
<line x1="666.70" y1="474.66" x2="671.30" y2="474.66" stroke="#3a3a3a" stroke-width="1.0"/>
<line x1="666.70" y1="481.94" x2="671.30" y2="481.94" stroke="#3a3a3a" stroke-width="1.0"/>
<line x1="403.10" y1="528.80" x2="403.10" y2="341.10" stroke="#000" stroke-width="1.8"/>
<line x1="397.70" y1="528.80" x2="403.10" y2="528.80" stroke="#000" stroke-width="1.8"/>
<text x="391.70" y="533.30" font-size="12" text-anchor="end" >0</text>
<line x1="397.70" y1="491.44" x2="403.10" y2="491.44" stroke="#000" stroke-width="1.8"/>
<text x="391.70" y="495.94" font-size="12" text-anchor="end" >2</text>
<line x1="397.70" y1="454.08" x2="403.10" y2="454.08" stroke="#000" stroke-width="1.8"/>
<text x="391.70" y="458.58" font-size="12" text-anchor="end" >4</text>
<line x1="397.70" y1="416.72" x2="403.10" y2="416.72" stroke="#000" stroke-width="1.8"/>
<text x="391.70" y="421.22" font-size="12" text-anchor="end" >6</text>
<line x1="397.70" y1="379.36" x2="403.10" y2="379.36" stroke="#000" stroke-width="1.8"/>
<text x="391.70" y="383.86" font-size="12" text-anchor="end" >8</text>
<line x1="397.70" y1="342.00" x2="403.10" y2="342.00" stroke="#000" stroke-width="1.8"/>
<text x="391.70" y="346.50" font-size="12" text-anchor="end" >10</text>
<line x1="397.70" y1="528.80" x2="683.90" y2="528.80" stroke="#000" stroke-width="1.8"/>
<line x1="415.60" y1="528.80" x2="415.60" y2="533.80" stroke="#000" stroke-width="1.8"/>
<line x1="440.94" y1="528.80" x2="440.94" y2="533.80" stroke="#000" stroke-width="1.8"/>
<line x1="466.28" y1="528.80" x2="466.28" y2="533.80" stroke="#000" stroke-width="1.8"/>
<line x1="491.62" y1="528.80" x2="491.62" y2="533.80" stroke="#000" stroke-width="1.8"/>
<line x1="516.96" y1="528.80" x2="516.96" y2="533.80" stroke="#000" stroke-width="1.8"/>
<line x1="542.30" y1="528.80" x2="542.30" y2="533.80" stroke="#000" stroke-width="1.8"/>
<line x1="567.64" y1="528.80" x2="567.64" y2="533.80" stroke="#000" stroke-width="1.8"/>
<line x1="592.98" y1="528.80" x2="592.98" y2="533.80" stroke="#000" stroke-width="1.8"/>
<line x1="618.32" y1="528.80" x2="618.32" y2="533.80" stroke="#000" stroke-width="1.8"/>
<line x1="643.66" y1="528.80" x2="643.66" y2="533.80" stroke="#000" stroke-width="1.8"/>
<line x1="669.00" y1="528.80" x2="669.00" y2="533.80" stroke="#000" stroke-width="1.8"/>
<text transform="translate(418.80,544.90) rotate(-45)" font-size="11.7" text-anchor="end">PBS</text>
<text transform="translate(444.54,544.90) rotate(-45)" font-size="11.7" text-anchor="end">SPy_2191</text>
<line x1="401.90" y1="594.40" x2="453.30" y2="594.40" stroke="#1e1e1e" stroke-width="1.2"/>
<line x1="401.90" y1="590.40" x2="401.90" y2="598.40" stroke="#1e1e1e" stroke-width="1.2"/>
<line x1="453.30" y1="590.40" x2="453.30" y2="598.40" stroke="#1e1e1e" stroke-width="1.2"/>
<text x="427.60" y="610.30" font-size="12" text-anchor="middle" >Lungs</text>
<text transform="translate(495.42,544.90) rotate(-45)" font-size="11.7" text-anchor="end">PBS</text>
<text transform="translate(521.16,544.90) rotate(-45)" font-size="11.7" text-anchor="end">SPy_2191</text>
<line x1="479.02" y1="594.40" x2="530.42" y2="594.40" stroke="#1e1e1e" stroke-width="1.2"/>
<line x1="479.02" y1="590.40" x2="479.02" y2="598.40" stroke="#1e1e1e" stroke-width="1.2"/>
<line x1="530.42" y1="590.40" x2="530.42" y2="598.40" stroke="#1e1e1e" stroke-width="1.2"/>
<text x="504.72" y="610.30" font-size="12" text-anchor="middle" >Liver</text>
<text transform="translate(572.04,544.90) rotate(-45)" font-size="11.7" text-anchor="end">PBS</text>
<text transform="translate(597.78,544.90) rotate(-45)" font-size="11.7" text-anchor="end">SPy_2191</text>
<line x1="556.14" y1="594.40" x2="607.54" y2="594.40" stroke="#1e1e1e" stroke-width="1.2"/>
<line x1="556.14" y1="590.40" x2="556.14" y2="598.40" stroke="#1e1e1e" stroke-width="1.2"/>
<line x1="607.54" y1="590.40" x2="607.54" y2="598.40" stroke="#1e1e1e" stroke-width="1.2"/>
<text x="581.84" y="610.30" font-size="12" text-anchor="middle" >Spleen</text>
<text transform="translate(648.66,544.90) rotate(-45)" font-size="11.7" text-anchor="end">PBS</text>
<text transform="translate(674.40,544.90) rotate(-45)" font-size="11.7" text-anchor="end">SPy_2191</text>
<line x1="633.26" y1="594.40" x2="684.66" y2="594.40" stroke="#1e1e1e" stroke-width="1.2"/>
<line x1="633.26" y1="590.40" x2="633.26" y2="598.40" stroke="#1e1e1e" stroke-width="1.2"/>
<line x1="684.66" y1="590.40" x2="684.66" y2="598.40" stroke="#1e1e1e" stroke-width="1.2"/>
<text x="658.96" y="610.30" font-size="12" text-anchor="middle" >Skin</text>
<text x="536.60" y="330.00" font-size="12" text-anchor="middle" >M1/USA</text>
<text transform="translate(366.20,435.00) rotate(-90)" font-size="12.2" text-anchor="middle">Organ load (Log<tspan font-size="8.6" dy="3.2">10</tspan><tspan dy="-3.2"> CFU)</tspan></text>
<text x="355.60" y="325.80" font-size="16.5" text-anchor="start" font-weight="bold">d</text>
<rect x="52.10" y="701.90" width="16.6" height="162.00" fill="#f64343" stroke="#000" stroke-width="1.1"/>
<circle cx="60.30" cy="689.20" r="2.75" fill="#fff" stroke="#222" stroke-width="0.9"/>
<circle cx="60.30" cy="699.80" r="2.75" fill="#fff" stroke="#222" stroke-width="0.9"/>
<circle cx="60.30" cy="716.80" r="2.75" fill="#fff" stroke="#222" stroke-width="0.9"/>
<line x1="60.40" y1="693.86" x2="60.40" y2="709.94" stroke="#3a3a3a" stroke-width="1.0"/>
<line x1="58.10" y1="693.86" x2="62.70" y2="693.86" stroke="#3a3a3a" stroke-width="1.0"/>
<line x1="58.10" y1="709.94" x2="62.70" y2="709.94" stroke="#3a3a3a" stroke-width="1.0"/>
<rect x="77.44" y="791.00" width="16.6" height="72.90" fill="#5556f7" stroke="#000" stroke-width="1.1"/>
<circle cx="85.50" cy="776.10" r="2.75" fill="#fff" stroke="#222" stroke-width="0.9"/>
<circle cx="90.00" cy="797.10" r="2.75" fill="#fff" stroke="#222" stroke-width="0.9"/>
<circle cx="81.40" cy="799.60" r="2.75" fill="#fff" stroke="#222" stroke-width="0.9"/>
<line x1="85.74" y1="783.55" x2="85.74" y2="798.45" stroke="#3a3a3a" stroke-width="1.0"/>
<line x1="83.44" y1="783.55" x2="88.04" y2="783.55" stroke="#3a3a3a" stroke-width="1.0"/>
<line x1="83.44" y1="798.45" x2="88.04" y2="798.45" stroke="#3a3a3a" stroke-width="1.0"/>
<rect x="128.12" y="693.30" width="16.6" height="170.60" fill="#f64343" stroke="#000" stroke-width="1.1"/>
<circle cx="131.90" cy="691.60" r="2.75" fill="#fff" stroke="#222" stroke-width="0.9"/>
<circle cx="140.40" cy="692.70" r="2.75" fill="#fff" stroke="#222" stroke-width="0.9"/>
<circle cx="136.40" cy="695.70" r="2.75" fill="#fff" stroke="#222" stroke-width="0.9"/>
<line x1="136.42" y1="692.07" x2="136.42" y2="694.53" stroke="#3a3a3a" stroke-width="1.0"/>
<line x1="134.12" y1="692.07" x2="138.72" y2="692.07" stroke="#3a3a3a" stroke-width="1.0"/>
<line x1="134.12" y1="694.53" x2="138.72" y2="694.53" stroke="#3a3a3a" stroke-width="1.0"/>
<rect x="153.46" y="793.40" width="16.6" height="70.50" fill="#5556f7" stroke="#000" stroke-width="1.1"/>
<circle cx="161.50" cy="783.60" r="2.75" fill="#fff" stroke="#222" stroke-width="0.9"/>
<circle cx="166.00" cy="795.50" r="2.75" fill="#fff" stroke="#222" stroke-width="0.9"/>
<circle cx="157.40" cy="801.20" r="2.75" fill="#fff" stroke="#222" stroke-width="0.9"/>
<line x1="161.76" y1="788.22" x2="161.76" y2="798.58" stroke="#3a3a3a" stroke-width="1.0"/>
<line x1="159.46" y1="788.22" x2="164.06" y2="788.22" stroke="#3a3a3a" stroke-width="1.0"/>
<line x1="159.46" y1="798.58" x2="164.06" y2="798.58" stroke="#3a3a3a" stroke-width="1.0"/>
<rect x="204.14" y="717.20" width="16.6" height="146.70" fill="#f64343" stroke="#000" stroke-width="1.1"/>
<circle cx="212.10" cy="703.10" r="2.75" fill="#fff" stroke="#222" stroke-width="0.9"/>
<circle cx="212.10" cy="718.80" r="2.75" fill="#fff" stroke="#222" stroke-width="0.9"/>
<circle cx="212.10" cy="729.00" r="2.75" fill="#fff" stroke="#222" stroke-width="0.9"/>
<line x1="212.44" y1="709.67" x2="212.44" y2="724.73" stroke="#3a3a3a" stroke-width="1.0"/>
<line x1="210.14" y1="709.67" x2="214.74" y2="709.67" stroke="#3a3a3a" stroke-width="1.0"/>
<line x1="210.14" y1="724.73" x2="214.74" y2="724.73" stroke="#3a3a3a" stroke-width="1.0"/>
<rect x="229.48" y="798.50" width="16.6" height="65.40" fill="#5556f7" stroke="#000" stroke-width="1.1"/>
<circle cx="237.40" cy="791.40" r="2.75" fill="#fff" stroke="#222" stroke-width="0.9"/>
<circle cx="241.90" cy="798.90" r="2.75" fill="#fff" stroke="#222" stroke-width="0.9"/>
<circle cx="233.30" cy="805.10" r="2.75" fill="#fff" stroke="#222" stroke-width="0.9"/>
<line x1="237.78" y1="794.54" x2="237.78" y2="802.46" stroke="#3a3a3a" stroke-width="1.0"/>
<line x1="235.48" y1="794.54" x2="240.08" y2="794.54" stroke="#3a3a3a" stroke-width="1.0"/>
<line x1="235.48" y1="802.46" x2="240.08" y2="802.46" stroke="#3a3a3a" stroke-width="1.0"/>
<rect x="280.16" y="704.50" width="16.6" height="159.40" fill="#f64343" stroke="#000" stroke-width="1.1"/>
<circle cx="288.10" cy="693.30" r="2.75" fill="#fff" stroke="#222" stroke-width="0.9"/>
<circle cx="288.10" cy="703.10" r="2.75" fill="#fff" stroke="#222" stroke-width="0.9"/>
<circle cx="288.10" cy="716.40" r="2.75" fill="#fff" stroke="#222" stroke-width="0.9"/>
<line x1="288.46" y1="697.81" x2="288.46" y2="711.19" stroke="#3a3a3a" stroke-width="1.0"/>
<line x1="286.16" y1="697.81" x2="290.76" y2="697.81" stroke="#3a3a3a" stroke-width="1.0"/>
<line x1="286.16" y1="711.19" x2="290.76" y2="711.19" stroke="#3a3a3a" stroke-width="1.0"/>
<rect x="305.50" y="804.30" width="16.6" height="59.60" fill="#5556f7" stroke="#000" stroke-width="1.1"/>
<circle cx="313.40" cy="798.10" r="2.75" fill="#fff" stroke="#222" stroke-width="0.9"/>
<circle cx="317.70" cy="805.70" r="2.75" fill="#fff" stroke="#222" stroke-width="0.9"/>
<circle cx="309.10" cy="808.80" r="2.75" fill="#fff" stroke="#222" stroke-width="0.9"/>
<line x1="313.80" y1="801.12" x2="313.80" y2="807.48" stroke="#3a3a3a" stroke-width="1.0"/>
<line x1="311.50" y1="801.12" x2="316.10" y2="801.12" stroke="#3a3a3a" stroke-width="1.0"/>
<line x1="311.50" y1="807.48" x2="316.10" y2="807.48" stroke="#3a3a3a" stroke-width="1.0"/>
<line x1="47.90" y1="863.90" x2="47.90" y2="676.20" stroke="#000" stroke-width="1.8"/>
<line x1="42.50" y1="863.90" x2="47.90" y2="863.90" stroke="#000" stroke-width="1.8"/>
<text x="36.50" y="868.40" font-size="12" text-anchor="end" >0</text>
<line x1="42.50" y1="826.54" x2="47.90" y2="826.54" stroke="#000" stroke-width="1.8"/>
<text x="36.50" y="831.04" font-size="12" text-anchor="end" >2</text>
<line x1="42.50" y1="789.18" x2="47.90" y2="789.18" stroke="#000" stroke-width="1.8"/>
<text x="36.50" y="793.68" font-size="12" text-anchor="end" >4</text>
<line x1="42.50" y1="751.82" x2="47.90" y2="751.82" stroke="#000" stroke-width="1.8"/>
<text x="36.50" y="756.32" font-size="12" text-anchor="end" >6</text>
<line x1="42.50" y1="714.46" x2="47.90" y2="714.46" stroke="#000" stroke-width="1.8"/>
<text x="36.50" y="718.96" font-size="12" text-anchor="end" >8</text>
<line x1="42.50" y1="677.10" x2="47.90" y2="677.10" stroke="#000" stroke-width="1.8"/>
<text x="36.50" y="681.60" font-size="12" text-anchor="end" >10</text>
<line x1="42.50" y1="863.90" x2="328.70" y2="863.90" stroke="#000" stroke-width="1.8"/>
<line x1="60.40" y1="863.90" x2="60.40" y2="868.90" stroke="#000" stroke-width="1.8"/>
<line x1="85.74" y1="863.90" x2="85.74" y2="868.90" stroke="#000" stroke-width="1.8"/>
<line x1="111.08" y1="863.90" x2="111.08" y2="868.90" stroke="#000" stroke-width="1.8"/>
<line x1="136.42" y1="863.90" x2="136.42" y2="868.90" stroke="#000" stroke-width="1.8"/>
<line x1="161.76" y1="863.90" x2="161.76" y2="868.90" stroke="#000" stroke-width="1.8"/>
<line x1="187.10" y1="863.90" x2="187.10" y2="868.90" stroke="#000" stroke-width="1.8"/>
<line x1="212.44" y1="863.90" x2="212.44" y2="868.90" stroke="#000" stroke-width="1.8"/>
<line x1="237.78" y1="863.90" x2="237.78" y2="868.90" stroke="#000" stroke-width="1.8"/>
<line x1="263.12" y1="863.90" x2="263.12" y2="868.90" stroke="#000" stroke-width="1.8"/>
<line x1="288.46" y1="863.90" x2="288.46" y2="868.90" stroke="#000" stroke-width="1.8"/>
<line x1="313.80" y1="863.90" x2="313.80" y2="868.90" stroke="#000" stroke-width="1.8"/>
<text transform="translate(64.40,882.20) rotate(-45)" font-size="11.7" text-anchor="end">PBS</text>
<text transform="translate(90.14,882.20) rotate(-45)" font-size="11.7" text-anchor="end">SPy_2191</text>
<line x1="46.70" y1="929.50" x2="98.10" y2="929.50" stroke="#1e1e1e" stroke-width="1.2"/>
<line x1="46.70" y1="925.50" x2="46.70" y2="933.50" stroke="#1e1e1e" stroke-width="1.2"/>
<line x1="98.10" y1="925.50" x2="98.10" y2="933.50" stroke="#1e1e1e" stroke-width="1.2"/>
<text x="72.40" y="944.90" font-size="12" text-anchor="middle" >Lungs</text>
<text transform="translate(141.02,882.20) rotate(-45)" font-size="11.7" text-anchor="end">PBS</text>
<text transform="translate(166.76,882.20) rotate(-45)" font-size="11.7" text-anchor="end">SPy_2191</text>
<line x1="123.82" y1="929.50" x2="175.22" y2="929.50" stroke="#1e1e1e" stroke-width="1.2"/>
<line x1="123.82" y1="925.50" x2="123.82" y2="933.50" stroke="#1e1e1e" stroke-width="1.2"/>
<line x1="175.22" y1="925.50" x2="175.22" y2="933.50" stroke="#1e1e1e" stroke-width="1.2"/>
<text x="149.52" y="944.90" font-size="12" text-anchor="middle" >Liver</text>
<text transform="translate(217.64,882.20) rotate(-45)" font-size="11.7" text-anchor="end">PBS</text>
<text transform="translate(243.38,882.20) rotate(-45)" font-size="11.7" text-anchor="end">SPy_2191</text>
<line x1="200.94" y1="929.50" x2="252.34" y2="929.50" stroke="#1e1e1e" stroke-width="1.2"/>
<line x1="200.94" y1="925.50" x2="200.94" y2="933.50" stroke="#1e1e1e" stroke-width="1.2"/>
<line x1="252.34" y1="925.50" x2="252.34" y2="933.50" stroke="#1e1e1e" stroke-width="1.2"/>
<text x="226.64" y="944.90" font-size="12" text-anchor="middle" >Spleen</text>
<text transform="translate(294.26,882.20) rotate(-45)" font-size="11.7" text-anchor="end">PBS</text>
<text transform="translate(320.00,882.20) rotate(-45)" font-size="11.7" text-anchor="end">SPy_2191</text>
<line x1="278.06" y1="929.50" x2="329.46" y2="929.50" stroke="#1e1e1e" stroke-width="1.2"/>
<line x1="278.06" y1="925.50" x2="278.06" y2="933.50" stroke="#1e1e1e" stroke-width="1.2"/>
<line x1="329.46" y1="925.50" x2="329.46" y2="933.50" stroke="#1e1e1e" stroke-width="1.2"/>
<text x="303.76" y="944.90" font-size="12" text-anchor="middle" >Skin</text>
<text x="181.35" y="654.60" font-size="12" text-anchor="middle" >M1/UK</text>
<text transform="translate(9.90,770.80) rotate(-90)" font-size="12.2" text-anchor="middle">Organ load (Log<tspan font-size="8.6" dy="3.2">10</tspan><tspan dy="-3.2"> CFU)</tspan></text>
<text x="-0.40" y="648.50" font-size="16.5" text-anchor="start" font-weight="bold">e</text>
<rect x="407.35" y="723.60" width="18.3" height="140.40" fill="#f64343" stroke="#000" stroke-width="1.1"/>
<circle cx="416.60" cy="688.80" r="2.75" fill="#fff" stroke="#222" stroke-width="0.9"/>
<circle cx="416.60" cy="703.40" r="2.75" fill="#fff" stroke="#222" stroke-width="0.9"/>
<circle cx="416.60" cy="730.00" r="2.75" fill="#fff" stroke="#222" stroke-width="0.9"/>
<circle cx="411.60" cy="737.80" r="2.75" fill="#fff" stroke="#222" stroke-width="0.9"/>
<circle cx="421.50" cy="739.20" r="2.75" fill="#fff" stroke="#222" stroke-width="0.9"/>
<circle cx="416.60" cy="743.40" r="2.75" fill="#fff" stroke="#222" stroke-width="0.9"/>
<line x1="416.50" y1="714.48" x2="416.50" y2="732.72" stroke="#3a3a3a" stroke-width="1.0"/>
<line x1="414.20" y1="714.48" x2="418.80" y2="714.48" stroke="#3a3a3a" stroke-width="1.0"/>
<line x1="414.20" y1="732.72" x2="418.80" y2="732.72" stroke="#3a3a3a" stroke-width="1.0"/>
<rect x="434.85" y="772.60" width="18.3" height="91.40" fill="#5556f7" stroke="#000" stroke-width="1.1"/>
<circle cx="443.80" cy="753.60" r="2.75" fill="#fff" stroke="#222" stroke-width="0.9"/>
<circle cx="448.00" cy="760.40" r="2.75" fill="#fff" stroke="#222" stroke-width="0.9"/>
<circle cx="439.70" cy="766.70" r="2.75" fill="#fff" stroke="#222" stroke-width="0.9"/>
<circle cx="443.80" cy="777.90" r="2.75" fill="#fff" stroke="#222" stroke-width="0.9"/>
<circle cx="448.00" cy="785.10" r="2.75" fill="#fff" stroke="#222" stroke-width="0.9"/>
<circle cx="440.00" cy="789.30" r="2.75" fill="#fff" stroke="#222" stroke-width="0.9"/>
<line x1="444.00" y1="766.81" x2="444.00" y2="778.39" stroke="#3a3a3a" stroke-width="1.0"/>
<line x1="441.70" y1="766.81" x2="446.30" y2="766.81" stroke="#3a3a3a" stroke-width="1.0"/>
<line x1="441.70" y1="778.39" x2="446.30" y2="778.39" stroke="#3a3a3a" stroke-width="1.0"/>
<line x1="403.20" y1="864.00" x2="403.20" y2="676.50" stroke="#000" stroke-width="1.8"/>
<line x1="397.80" y1="864.00" x2="403.20" y2="864.00" stroke="#000" stroke-width="1.8"/>
<text x="391.80" y="868.50" font-size="12" text-anchor="end" >0</text>
<line x1="397.80" y1="826.68" x2="403.20" y2="826.68" stroke="#000" stroke-width="1.8"/>
<text x="391.80" y="831.18" font-size="12" text-anchor="end" >1</text>
<line x1="397.80" y1="789.36" x2="403.20" y2="789.36" stroke="#000" stroke-width="1.8"/>
<text x="391.80" y="793.86" font-size="12" text-anchor="end" >2</text>
<line x1="397.80" y1="752.04" x2="403.20" y2="752.04" stroke="#000" stroke-width="1.8"/>
<text x="391.80" y="756.54" font-size="12" text-anchor="end" >3</text>
<line x1="397.80" y1="714.72" x2="403.20" y2="714.72" stroke="#000" stroke-width="1.8"/>
<text x="391.80" y="719.22" font-size="12" text-anchor="end" >4</text>
<line x1="397.80" y1="677.40" x2="403.20" y2="677.40" stroke="#000" stroke-width="1.8"/>
<text x="391.80" y="681.90" font-size="12" text-anchor="end" >5</text>
<line x1="397.80" y1="864.00" x2="458.80" y2="864.00" stroke="#000" stroke-width="1.8"/>
<line x1="416.50" y1="864.00" x2="416.50" y2="869.00" stroke="#000" stroke-width="1.8"/>
<text transform="translate(422.90,880.00) rotate(-45)" font-size="11.7" text-anchor="end">PBS</text>
<line x1="444.00" y1="864.00" x2="444.00" y2="869.00" stroke="#000" stroke-width="1.8"/>
<text transform="translate(450.40,880.00) rotate(-45)" font-size="11.7" text-anchor="end">SPy_2191</text>
<line x1="416.60" y1="671.70" x2="442.80" y2="671.70" stroke="#1e1e1e" stroke-width="1.2"/>
<line x1="416.60" y1="667.60" x2="416.60" y2="675.80" stroke="#1e1e1e" stroke-width="1.2"/>
<line x1="442.80" y1="667.60" x2="442.80" y2="675.80" stroke="#1e1e1e" stroke-width="1.2"/>
<text x="406.2" y="662.7" font-size="10.2"><tspan font-style="italic">p</tspan> <tspan fill="#555">=</tspan> 0.0012</text>
<text transform="translate(366.20,770.45) rotate(-90)" font-size="12.2" text-anchor="middle">Nasopharynx load (Log<tspan font-size="8.6" dy="3.2">10</tspan><tspan dy="-3.2"> CFU)</tspan></text>
<text x="355.30" y="648.00" font-size="16.5" text-anchor="start" font-weight="bold">f</text>
</svg></body></html>
